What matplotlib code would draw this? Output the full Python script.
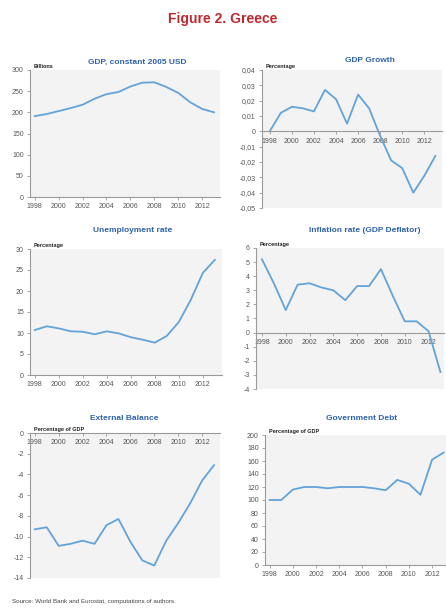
# Figure 2. Greece - six small macro panels
import matplotlib.pyplot as plt

plt.rcParams["axes.unicode_minus"] = False

# ----------------------------------------------------
# 1. Data
# ----------------------------------------------------
years = list(range(1998, 2014))
xtick_years = list(range(1998, 2013, 2))

gdp = [191, 196, 203, 210, 218, 232, 243, 248, 261, 270, 271, 260, 246, 224, 208, 200]
growth = [0.0, 0.012, 0.016, 0.015, 0.013, 0.027, 0.021, 0.005, 0.024, 0.015,
          -0.003, -0.019, -0.024, -0.040, -0.029, -0.016]
unemployment = [10.7, 11.6, 11.1, 10.4, 10.3, 9.7, 10.4, 9.9, 9.0, 8.4,
                7.7, 9.3, 12.6, 17.9, 24.3, 27.4]
inflation = [5.2, 3.5, 1.6, 3.4, 3.5, 3.2, 3.0, 2.3, 3.3, 3.3,
             4.5, 2.6, 0.8, 0.8, 0.1, -2.8]
external = [-9.3, -9.1, -10.9, -10.7, -10.4, -10.7, -8.9, -8.3, -10.5, -12.3,
            -12.8, -10.4, -8.7, -6.8, -4.6, -3.1]
debt = [100, 100, 116, 120, 120, 118, 120, 120, 120, 118, 115, 131, 125, 108, 162, 173]

gdp_ticks = [0, 50, 100, 150, 200, 250, 300]
growth_ticks = [-0.05, -0.04, -0.03, -0.02, -0.01, 0, 0.01, 0.02, 0.03, 0.04]
growth_labels = ["-0,05", "-0,04", "-0,03", "-0,02", "-0,01", "0",
                 "0,01", "0,02", "0,03", "0,04"]
unemp_ticks = [0, 5, 10, 15, 20, 25, 30]
infl_ticks = [-4, -3, -2, -1, 0, 1, 2, 3, 4, 5, 6]
ext_ticks = [-14, -12, -10, -8, -6, -4, -2, 0]
debt_ticks = [0, 20, 40, 60, 80, 100, 120, 140, 160, 180, 200]

# ----------------------------------------------------
# 2. Figure and helpers
# ----------------------------------------------------
W, H = 446, 610
fig = plt.figure(figsize=(W / 100, H / 100), dpi=100)
fig.patch.set_facecolor("white")

FONT = "Liberation Sans"
LINE_COLOR = "#62a3d9"
TITLE_COLOR = "#2f62ad"
AXIS_COLOR = "#9a9a9a"


def px_axes(left, top, right, bottom):
    return fig.add_axes([left / W, 1 - bottom / H, (right - left) / W, (bottom - top) / H])


def panel(box, values, xlim, ylim, yticks, title, title_xy, unit, ylabels=None):
    ax = px_axes(*box)
    ax.set_facecolor("#f3f3f3")
    ax.plot(years, values, color=LINE_COLOR, lw=1.3)
    ax.set_xlim(*xlim)
    ax.set_ylim(*ylim)

    for side in ["top", "right"]:
        ax.spines[side].set_visible(False)
    for side in ["left", "bottom"]:
        ax.spines[side].set_color(AXIS_COLOR)
        ax.spines[side].set_linewidth(0.8)
    if ylim[0] < 0:
        ax.spines["bottom"].set_position(("data", 0))

    ax.set_xticks(xtick_years)
    ax.set_yticks(yticks)
    if ylabels is not None:
        ax.set_yticklabels(ylabels)
    ax.tick_params(axis="both", length=2, width=0.6, color=AXIS_COLOR,
                   labelsize=5, labelcolor="#555555", pad=2.5)
    for lab in ax.get_xticklabels() + ax.get_yticklabels():
        lab.set_family(FONT)

    fig.text(title_xy[0] / W, 1 - title_xy[1] / H, title, ha="center", va="center",
             color=TITLE_COLOR, fontsize=6, fontweight="bold", family=FONT)
    ax.text(0.02, 1.01, unit, transform=ax.transAxes, ha="left", va="bottom",
            fontsize=4, fontweight="bold", family=FONT, color="#222222")
    return ax


# ----------------------------------------------------
# 3. Panels
# ----------------------------------------------------
panel((30, 70, 220, 197), gdp, (1997.6, 2013.5), (0, 300), gdp_ticks,
      "GDP, constant 2005 USD", (137, 62), "Billions")

panel((262, 70, 442, 208), growth, (1997.3, 2013.6), (-0.05, 0.04), growth_ticks,
      "GDP Growth", (370, 60), "Percentage", growth_labels)

panel((30, 249, 222, 375), unemployment, (1997.6, 2013.6), (0, 30), unemp_ticks,
      "Unemployment rate", (133, 231), "Percentage")

panel((256, 248, 444, 389), inflation, (1997.5, 2013.3), (-4, 6), infl_ticks,
      "Inflation rate (GDP Deflator)", (365, 230), "Percentage")

panel((30, 433, 220, 578), external, (1997.6, 2013.5), (-14, 0), ext_ticks,
      "External Balance", (124, 418), "Percentage of GDP")

panel((265, 435, 446, 565), debt, (1997.6, 2013.2), (0, 200), debt_ticks,
      "Government Debt", (362, 418), "Percentage of GDP")

# ----------------------------------------------------
# 4. Figure title and source
# ----------------------------------------------------
fig.text(0.5, 1 - 19 / H, "Figure 2. Greece", ha="center", va="center",
         color="#c0282d", fontsize=10, fontweight="bold", family=FONT)
fig.text(12 / W, 1 - 602 / H, "Source: World Bank and Eurostat, computations of authors.",
         ha="left", va="center", fontsize=4.5, color="#444444", family=FONT)

fig.savefig("out.png", dpi=100)
